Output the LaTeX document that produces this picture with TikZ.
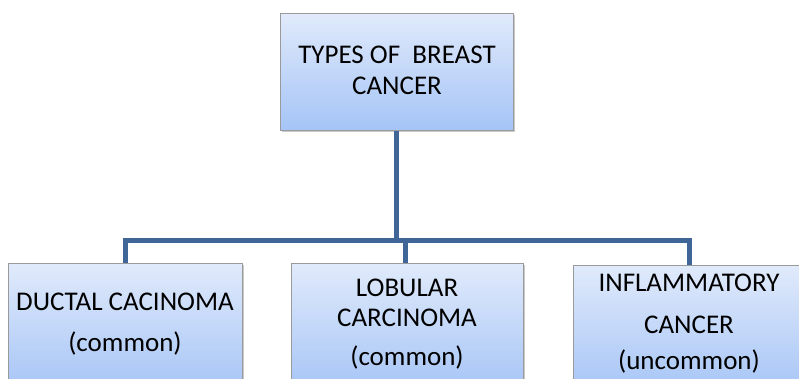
\documentclass[tikz,border=0pt]{standalone}
\usepackage{fontspec}
\setmainfont{Carlito}
\usetikzlibrary{shadows}
\definecolor{linec}{HTML}{3F6697}
\definecolor{boxtop}{HTML}{E0EAFB}
\definecolor{boxbot}{HTML}{A5C4F6}
\definecolor{boxedge}{HTML}{9A9A9A}
\tikzset{
  box/.style={draw=boxedge, line width=0.9pt, top color=boxtop, bottom color=boxbot,
    rectangle, inner sep=0pt, anchor=north west,
    drop shadow={shadow xshift=2pt, shadow yshift=-2pt, opacity=0.3, fill=black!70}},
  txt/.style={anchor=base, inner sep=0pt, font=\fontsize{27}{29}\selectfont, text=black},
  conn/.style={draw=linec, line width=5pt, line join=miter}
}
\begin{document}
\begin{tikzpicture}[x=1pt,y=-1pt]
\useasboundingbox (0,0) rectangle (799,379);
\begin{scope}
\clip (0,0) rectangle (799,379);
\node[box, minimum width=233pt, minimum height=117pt] (top) at (280,13) {};
\node[box, minimum width=234pt, minimum height=130pt] (left) at (8,263) {};
\node[box, minimum width=232pt, minimum height=130pt] (mid) at (291,263) {};
\node[box, minimum width=232pt, minimum height=130pt] (right) at (573,265) {};
\end{scope}
\coordinate (busL) at (124.5,240.5);
\coordinate (busR) at (689,240.5);
\draw[conn] (top.south) ++(-0.5,0) coordinate (ts) -- (ts |- busL);
\draw[conn] (left.north) -- (left.north |- busL) -- (busR) -- (busR |- right.north);
\draw[conn] (mid.north) ++(-1.5,0) coordinate (ms) -- (ms |- busL);
% texts
\node[txt] (t1) at (397,64) {TYPES OF\ \ BREAST};
\node[txt] (t2) at (397,95) {CANCER};
\node[txt] (l1) at (125,310) {DUCTAL CACINOMA};
\node[txt] (l2) at (125,351) {(common)};
\node[txt] (m1) at (407,296) {LOBULAR};
\node[txt] (m2) at (407,326) {CARCINOMA};
\node[txt] (m3) at (407,365) {(common)};
\node[txt] (r1) at (689,291) {INFLAMMATORY};
\node[txt] (r2) at (689,333) {CANCER};
\node[txt] (r3) at (689,369) {(uncommon)};
\end{tikzpicture}
\end{document}
